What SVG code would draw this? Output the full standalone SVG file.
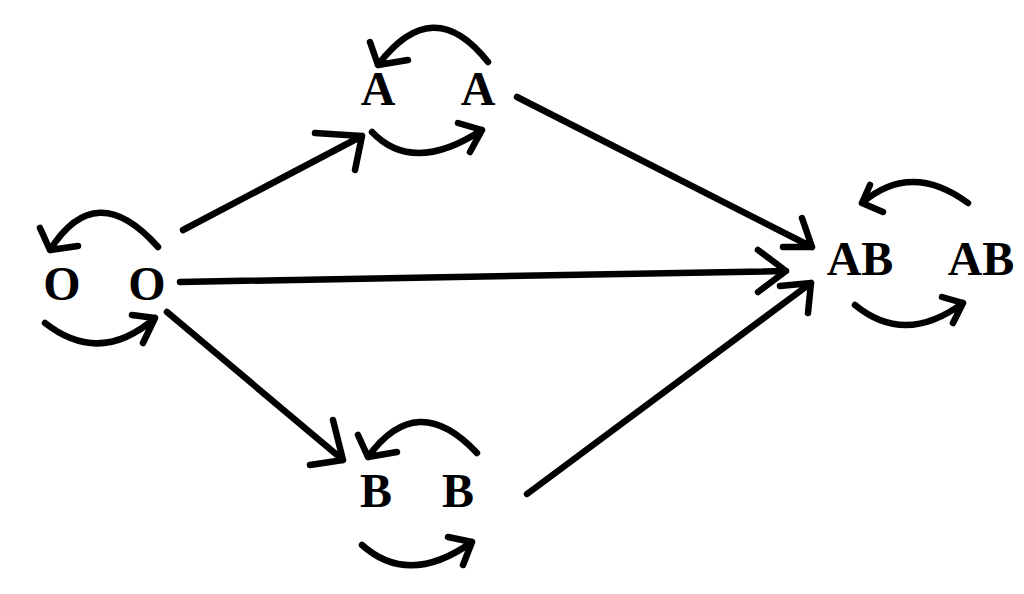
<svg xmlns="http://www.w3.org/2000/svg" width="1024" height="594" viewBox="0 0 1024 594">
<style>
.bg{fill:#ffffff}
.ln{fill:none;stroke:#000;stroke-width:6.5;stroke-linecap:round;stroke-linejoin:round}
.lb{font-family:"Liberation Serif","Times New Roman",serif;font-weight:bold;font-size:48px;fill:#000;text-anchor:middle}
</style>
<rect class="bg" x="0" y="0" width="1024" height="594"/>
<g id="node-O">
<text class="lb" x="62" y="300">O</text>
<text class="lb" x="147" y="300">O</text>
<path class="ln" d="M158,247 Q96,177 50,250 M40,228 L50,250 L78,246"/>
<path class="ln" d="M45,323 Q100,366 155,318 M132,315 L155,318 L143,343"/>
</g>
<g id="node-A">
<text class="lb" x="378" y="105">A</text>
<text class="lb" x="478" y="105">A</text>
<path class="ln" d="M488,62 Q433,-8 378,65 M370,42 L378,65 L408,60"/>
<path class="ln" d="M372,132 Q413,175 482,130 M458,123 L482,130 L470,152"/>
</g>
<g id="node-B">
<text class="lb" x="376" y="507">B</text>
<text class="lb" x="458" y="507">B</text>
<path class="ln" d="M477,453 Q417,389 368,457 M358,435 L368,457 L397,452"/>
<path class="ln" d="M362,545 Q409,587 472,542 M448,537 L472,542 L463,565"/>
</g>
<g id="node-AB">
<text class="lb" x="860" y="275">AB</text>
<text class="lb" x="981" y="275">AB</text>
<path class="ln" d="M968,203 Q911,161 862,203 M870,185 L862,203 L883,212"/>
<path class="ln" d="M855,305 Q905,346 963,303 M942,297 L963,303 L953,323"/>
</g>
<g id="connectors">
<path class="ln" d="M183,230 L362,136 M315,133 L362,136 L355,170"/>
<path class="ln" d="M180,282 L786,271 M758,250 L786,271 L758,292"/>
<path class="ln" d="M167,312 L343,460 M333,420 L343,460 L310,465"/>
<path class="ln" d="M517,97 L812,247 M802,218 L812,247 L783,247"/>
<path class="ln" d="M527,494 L811,283 M780,286 L811,283 L808,313"/>
</g>
</svg>
